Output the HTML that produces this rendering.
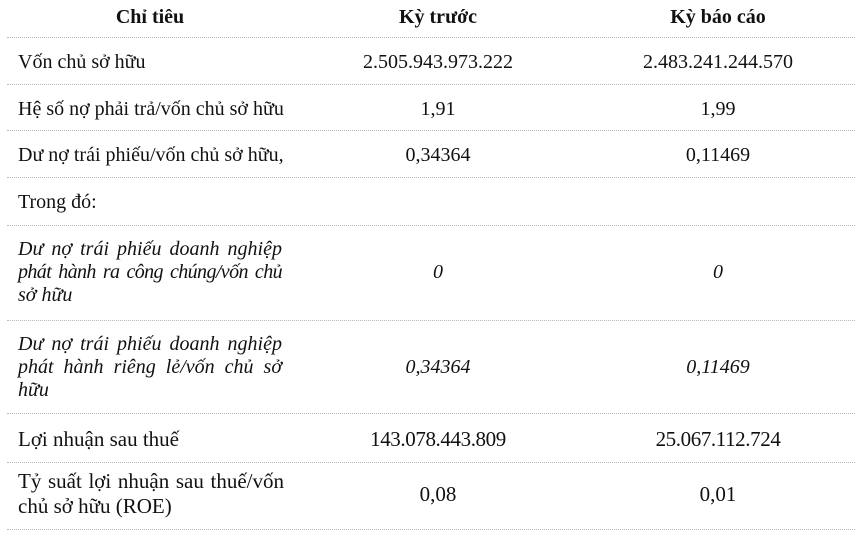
<!DOCTYPE html>
<html>
<head>
<meta charset="utf-8">
<style>
  html, body { margin:0; padding:0; background:#ffffff; }
  body { width:855px; height:537px; position:relative; overflow:hidden;
         font-family:"Liberation Serif", "Noto Serif CJK SC", serif; color:#111111; }
  .t { position:absolute; font-size:20px; line-height:23px; white-space:nowrap; }
  .c { width:300px; text-align:center; }
  .b { font-weight:bold; }
  .i { font-style:italic; }
  .j { width:264px; text-align:justify; text-align-last:justify; white-space:normal; }
  .hl { position:absolute; left:7px; width:848px; height:0; border-top:1px dotted #b8b8b8; }
  .big { font-size:21px; }
</style>
</head>
<body>
<!-- separators -->
<div class="hl" style="top:37px"></div>
<div class="hl" style="top:84px"></div>
<div class="hl" style="top:130px"></div>
<div class="hl" style="top:177px"></div>
<div class="hl" style="top:225px"></div>
<div class="hl" style="top:320px"></div>
<div class="hl" style="top:413px"></div>
<div class="hl" style="top:462px"></div>
<div class="hl" style="top:529px"></div>

<!-- header -->
<div class="t c b" style="left:0px; top:6px;">Chỉ tiêu</div>
<div class="t c b" style="left:288px; top:6px;">Kỳ trước</div>
<div class="t c b" style="left:568px; top:6px;">Kỳ báo cáo</div>

<!-- row 1 -->
<div class="t" style="left:18px; top:51px;">Vốn chủ sở hữu</div>
<div class="t c" style="left:288px; top:51px;">2.505.943.973.222</div>
<div class="t c" style="left:568px; top:51px;">2.483.241.244.570</div>

<!-- row 2 -->
<div class="t" style="left:18px; top:98px;">Hệ số nợ phải trả/vốn chủ sở hữu</div>
<div class="t c" style="left:288px; top:98px;">1,91</div>
<div class="t c" style="left:568px; top:98px;">1,99</div>

<!-- row 3 -->
<div class="t" style="left:18px; top:144px;">Dư nợ trái phiếu/vốn chủ sở hữu,</div>
<div class="t c" style="left:288px; top:144px;">0,34364</div>
<div class="t c" style="left:568px; top:144px;">0,11469</div>

<!-- row 4 -->
<div class="t" style="left:18px; top:191px;">Trong đó:</div>

<!-- row 5 -->
<div class="t i j" style="left:18px; top:238px;">Dư nợ trái phiếu doanh nghiệp</div>
<div class="t i j" style="left:18px; top:261px; letter-spacing:-0.6px;">phát hành ra công chúng/vốn chủ</div>
<div class="t i" style="left:18px; top:284px;">sở hữu</div>
<div class="t c i" style="left:288px; top:261px;">0</div>
<div class="t c i" style="left:568px; top:261px;">0</div>

<!-- row 6 -->
<div class="t i j" style="left:18px; top:333px;">Dư nợ trái phiếu doanh nghiệp</div>
<div class="t i j" style="left:18px; top:356px;">phát hành riêng lẻ/vốn chủ sở</div>
<div class="t i" style="left:18px; top:379px;">hữu</div>
<div class="t c i" style="left:288px; top:356px;">0,34364</div>
<div class="t c i" style="left:568px; top:356px;">0,11469</div>

<!-- row 7 -->
<div class="t big" style="left:18px; top:428px;">Lợi nhuận sau thuế</div>
<div class="t c big" style="left:288px; top:428px; letter-spacing:-0.4px;">143.078.443.809</div>
<div class="t c big" style="left:568px; top:428px; letter-spacing:-0.4px;">25.067.112.724</div>

<!-- row 8 -->
<div class="t j big" style="left:18px; top:470px; width:266px;">Tỷ suất lợi nhuận sau thuế/vốn</div>
<div class="t big" style="left:18px; top:495px;">chủ sở hữu (ROE)</div>
<div class="t c big" style="left:288px; top:483px;">0,08</div>
<div class="t c big" style="left:568px; top:483px;">0,01</div>
</body>
</html>
